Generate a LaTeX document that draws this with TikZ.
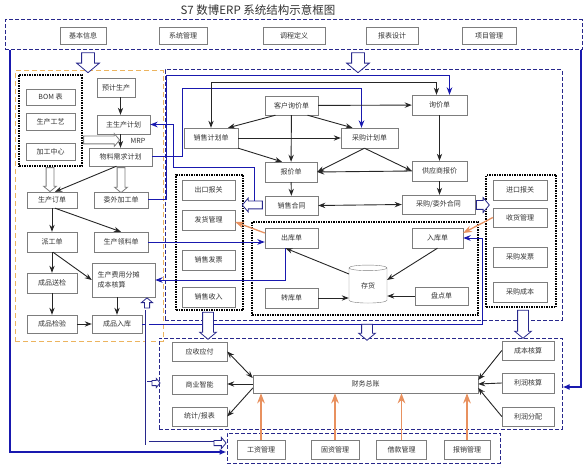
\documentclass[tikz,border=0pt]{standalone}
\usepackage{fontspec}
\setmainfont{Noto Sans CJK SC}
\usetikzlibrary{arrows.meta, positioning, shapes.geometric, shapes.arrows}
\definecolor{erpnavy}{RGB}{40, 40, 140}
\definecolor{erpblue}{RGB}{25, 25, 175}
\definecolor{erporange}{RGB}{232, 145, 95}
\definecolor{erpyellow}{RGB}{236, 180, 95}
\definecolor{erpgray}{RGB}{125, 125, 125}

\begin{document}
\begin{tikzpicture}[x=1pt, y=-1pt, >=Stealth,
    box/.style={draw=erpgray, fill=white, inner sep=1pt, text=black!80,
        font=\fontsize{7}{8}\selectfont, minimum height=19pt},
    navydash/.style={draw=erpnavy, line width=1pt, dash pattern=on 4pt off 2pt},
    orangedash/.style={draw=erpyellow, line width=1pt, dash pattern=on 5pt off 3pt},
    dotbox/.style={draw=black, line width=2pt, dash pattern=on 1.5pt off 1pt},
    link/.style={->, line width=0.9pt, black!85},
    bluelink/.style={->, line width=1pt, erpblue},
    orangelink/.style={->, line width=1.3pt, erporange},
    bigblue/.style={-{Latex[length=7pt,width=6pt]}, line width=2pt, erpblue},
    hollow/.style={single arrow, draw=erpnavy, fill=white, line width=0.8pt, inner sep=5pt,
        minimum width=0pt, single arrow head extend=3pt, single arrow head indent=0pt,
        single arrow tip angle=100},
    hollowgray/.style={hollow, draw=erpgray, inner sep=3.5pt, single arrow head extend=2.5pt},
    hollowline/.style={draw=erpnavy, line width=0.8pt, double=white, double distance=3pt}]

\useasboundingbox (0,0) rectangle (586,465);

% === Titulo y barra superior ===
\node[font=\fontsize{11.5}{12}\selectfont, text=black!80] (title) at (258,10) {S7 数博ERP 系统结构示意框图};
\node[navydash, minimum width=577pt, minimum height=30pt] (topbox) at (293.5,35) {};
\node[box, minimum width=46pt, minimum height=17pt] (jbxx) at (83,35.5) {基本信息};
\node[box, minimum width=48pt, minimum height=17pt] (xtgl) at (183,35.5) {系统管理};
\node[box, minimum width=62pt, minimum height=17pt] (lcdy) at (294,35.5) {调程定义};
\node[box, minimum width=52pt, minimum height=17pt] (bbsj) at (392,35.5) {报表设计};
\node[box, minimum width=54pt, minimum height=17pt] (xmgl) at (489,35.5) {项目管理};

% grupos
\node[orangedash, minimum width=148pt, minimum height=270pt] (mfgbox) at (89,206) {};
\node[navydash, minimum width=397pt, minimum height=250pt] (midbox) at (363.5,195) {};
\node[dotbox, minimum width=63pt, minimum height=91pt] (bomgrp) at (50.5,120.5) {};
\node[dotbox, minimum width=67pt, minimum height=135pt] (salegrp) at (209.5,242.5) {};
\node[dotbox, minimum width=70pt, minimum height=132pt] (buygrp) at (521,241) {};
\node[dotbox, minimum width=226pt, minimum height=93pt] (stockgrp) at (365,268.5) {};
\node[navydash, minimum width=403pt, minimum height=91pt] (finbox) at (360.5,383.5) {};
\node[navydash, minimum width=273pt, minimum height=30pt] (botbox) at (363.5,448) {};

% === Produccion ===
\node[box, minimum width=49pt, minimum height=16pt] (bom) at (50.5,97) {BOM 表};
\node[box, minimum width=49pt, minimum height=17pt] (scgy) at (50.5,121.5) {生产工艺};
\node[box, minimum width=49pt, minimum height=17pt] (jgzx) at (50.5,151.5) {加工中心};
\node[box, minimum width=38pt] (yjsc) at (116,87.5) {预计生产};
\node[box, minimum width=53pt] (zscjh) at (123.5,124.5) {主生产计划};
\node[box, minimum width=63pt, minimum height=18pt] (wlxq) at (120.5,157) {物料需求计划};
\node[box, minimum width=50pt, minimum height=16pt] (scdd) at (52,200) {生产订单};
\node[box, minimum width=54pt, minimum height=16pt] (wwjg) at (121,200) {委外加工单};
\node[box, minimum width=50pt, minimum height=20pt] (pgd) at (52,242) {派工单};
\node[box, minimum width=54pt, minimum height=20pt] (scll) at (121,242) {生产领料单};
\node[box, minimum width=50pt, minimum height=20pt] (cpsj) at (52,283) {成品送检};
\node[box, minimum width=63pt, minimum height=34pt, align=left, text width=52pt] (cbhs) at (123.5,280) {生产费用分摊\\[2pt]成本核算};
\node[box, minimum width=50pt, minimum height=18pt] (cpjy) at (52,324) {成品检验};
\node[box, minimum width=50pt, minimum height=18pt] (cprk) at (117,324) {成品入库};
\node[font=\fontsize{7}{8}\selectfont, text=black!80] (mrp) at (138,141) {MRP};

% === Ventas y compras ===
\node[box, minimum width=53pt] (khxj) at (291.5,105.5) {客户询价单};
\node[box, minimum width=55pt, minimum height=20pt] (xjd) at (439.5,105) {询价单};
\node[box, minimum width=54pt, minimum height=20pt] (xsjh) at (211,138) {销售计划单};
\node[box, minimum width=57pt, minimum height=20pt] (cgjh) at (369.5,138) {采购计划单};
\node[box, minimum width=52pt, minimum height=20pt] (bjd) at (291,172) {报价单};
\node[box, minimum width=55pt, minimum height=20pt] (gysbj) at (439.5,171) {供应商报价};
\node[box, minimum width=53pt] (xsht) at (291.5,205.5) {销售合同};
\node[box, minimum width=73pt] (cght) at (438.5,204.5) {采购/委外合同};

\node[box, minimum width=53pt, minimum height=20pt] (ckbg) at (208.5,190) {出口报关};
\node[box, minimum width=53pt, minimum height=20pt] (fhgl) at (208.5,220) {发货管理};
\node[box, minimum width=53pt, minimum height=20pt] (xsfp) at (208.5,260) {销售发票};
\node[box, minimum width=53pt, minimum height=20pt] (xssr) at (208.5,297) {销售收入};

\node[box, minimum width=54pt, minimum height=20pt] (jkbg) at (520,190) {进口报关};
\node[box, minimum width=54pt, minimum height=19pt] (shgl) at (520,217.5) {收货管理};
\node[box, minimum width=54pt, minimum height=20pt] (cgfp) at (520,257) {采购发票};
\node[box, minimum width=54pt, minimum height=20pt] (cgcb) at (520,292) {采购成本};

% almacen
\node[box, minimum width=53pt, minimum height=20pt] (ckd) at (291.5,238) {出库单};
\node[box, minimum width=51pt, minimum height=20pt] (rkd) at (437.5,238) {入库单};
\node[box, minimum width=53pt, minimum height=20pt] (zkd) at (291.5,298) {转库单};
\node[box, minimum width=53pt, minimum height=18pt] (pdd) at (441.5,296) {盘点单};
\node[box, cylinder, shape border rotate=90, aspect=0.35, minimum width=38pt, minimum height=38pt] (ch) at (368,286) {存货};

% === Finanzas ===
\node[box, minimum width=55pt] (ysyf) at (199.5,351.5) {应收应付};
\node[box, minimum width=55pt] (syzn) at (199.5,384.5) {商业智能};
\node[box, minimum width=55pt] (tjbb) at (199.5,416.5) {统计/报表};
\node[box, minimum width=225pt, minimum height=18pt] (cwzz) at (365.5,384) {财务总账};
\node[box, minimum width=52pt] (cbhs2) at (528,350.5) {成本核算};
\node[box, minimum width=52pt, minimum height=20pt] (lrhs) at (528,383) {利润核算};
\node[box, minimum width=52pt] (lrfp) at (528,416.5) {利润分配};

\node[box, minimum width=48pt] (gzgl) at (261,449.5) {工资管理};
\node[box, minimum width=48pt] (gzgl2) at (335,449.5) {固资管理};
\node[box, minimum width=50pt] (jkgl) at (401.5,449.5) {借款管理};
\node[box, minimum width=46pt] (bxgl) at (467,449.5) {报销管理};

% === Conexiones azules ===
\draw[bigblue] ([xshift=5pt]topbox.south west) |- ([yshift=-4pt]botbox.west);
\draw[bigblue] ([xshift=-2pt]topbox.south east) |- ([yshift=-3.5pt]finbox.east);
\draw[bluelink] (wwjg.east) -| (166,76) -| ([xshift=10pt]xjd.north);
\draw[bluelink] (wlxq.east) -| (182,89) -| ([xshift=-8pt]cgjh.north);
\draw[bluelink] (254,205) |- (173,168) |- (zscjh.east);
\draw[bluelink] (scll.east) -- (scll.east -| ckd.west);
\draw[bluelink] ([xshift=-6pt]ckd.south) |- (cbhs.east);
\draw[bluelink] (cprk.east) -| (482,238) -- (rkd.east);

% === Conexiones negras ===
\draw[link] (yjsc.south -| wlxq) -- (zscjh.north -| wlxq);
\draw[link] (zscjh.south -| wlxq) -- (wlxq.north);
\draw[link] ([xshift=-4pt]wlxq.south) -- ([xshift=3pt]scdd.north);
\draw[link] (scdd) -- (pgd);
\draw[link] ([xshift=3pt]scdd.south) -- (scll.north);
\draw[link] (pgd) -- (cpsj);
\draw[link] ([xshift=1pt]pgd.south) -- (cbhs.west);
\draw[link] (cpsj) -- (cpjy);
\draw[link] (cpjy) -- (cprk);
\draw[link] (cbhs.south -| cprk) -- (cprk.north);

\draw[link, <->] (xsjh.north) -- ++(0,-45) -| ([xshift=-3pt]xjd.north);
\draw[link] ([xshift=-16pt]khxj.south) -- ([xshift=17pt]xsjh.north);
\draw[link] (khxj) -- (bjd);
\draw[link] ([xshift=16pt]khxj.south) -- ([xshift=-17pt]cgjh.north);
\draw[link] (khxj) -- (xjd);
\draw[link] (xsjh) -- (cgjh);
\draw[link] (xsjh.south east) -- ([xshift=-9pt]bjd.north);
\draw[link] ([xshift=-5pt]cgjh.south) -- (bjd.east);
\draw[link] ([xshift=-5pt]cgjh.south) -- (gysbj.west);
\draw[link] (gysbj.west) -- (bjd.east);
\draw[link] (xjd) -- (gysbj);
\draw[link] (bjd) -- (xsht);
\draw[link] (gysbj) -- (gysbj |- cght.north);
\draw[link, <->] (xsht.east) -- (cght.west);

\draw[link] ([xshift=-19pt, yshift=12pt]ch.center) -- ([xshift=-6pt]ckd.south);
\draw[link] (rkd.south) -- ([xshift=19pt, yshift=6pt]ch.center);
\draw[link] (zkd.east) -- (zkd.east -| ch.west);
\draw[link] (pdd.west) -- (pdd.west -| ch.east);

\draw[link, <->] (ysyf.east) -- ([yshift=6pt]cwzz.west);
\draw[link] (cwzz.west) -- (cwzz.west -| syzn.east);
\draw[link] ([yshift=-4pt]cwzz.west) -- (tjbb.east);
\draw[link] (cbhs2.west) -- ([yshift=4pt]cwzz.east);
\draw[link] (lrhs.west) -- (cwzz.east);
\draw[link] (lrfp.west) -- ([yshift=-4pt]cwzz.east);

% === Conexiones naranjas ===
\draw[orangelink] ([yshift=5pt]ckd.west) -- ([yshift=-2pt]fhgl.east);
\draw[orangelink] (shgl.west) -- ([yshift=5pt]rkd.east);
\foreach \n in {gzgl, gzgl2, jkgl, bxgl}
    \draw[orangelink, line width=1.6pt] (\n.north) -- (\n.north |- cwzz.south);

% === Flechas huecas ===
\draw[hollowline] (147,310) -- (147,443) -- (214,443);
\draw[hollowline] (147,383) -- (152,383);
\node[hollow, inner sep=2.2pt, minimum height=10pt, shape border rotate=90] (upcb) at (147,304) {};
\node[hollow, inner sep=2.2pt, minimum height=12pt] (tobot) at (219,443) {};
\node[hollow, inner sep=2.2pt, single arrow head extend=2pt, minimum height=8pt] (tofin) at (155,383) {};

\node[hollow, inner sep=6pt, single arrow head extend=5pt, minimum height=20pt, shape border rotate=270] (downmfg) at (88,60) {};
\node[hollow, inner sep=6pt, single arrow head extend=5pt, minimum height=20pt, shape border rotate=270] (downmid) at (358,60) {};
\node[hollowgray, minimum height=24pt, shape border rotate=270] (downbom) at (50,178) {};
\node[hollowgray, minimum height=25pt, shape border rotate=270] (downww) at (121,178.5) {};
\node[hollowgray, minimum height=36pt] (tomrp) at (100,140) {};
\node[hollow, inner sep=3.5pt, minimum height=20pt, shape border rotate=180] (xshtarr) at (254,205) {};
\node[hollow, inner sep=4pt, minimum height=13pt] (cghtarr) at (481,205) {};
\node[hollow, minimum height=27pt, shape border rotate=270] (salefin) at (208,323.5) {};
\node[hollow, minimum height=16pt, shape border rotate=270] (stockfin) at (367,330) {};
\node[hollow, minimum height=28pt, shape border rotate=270] (buyfin) at (523,322) {};

\end{tikzpicture}
\end{document}
